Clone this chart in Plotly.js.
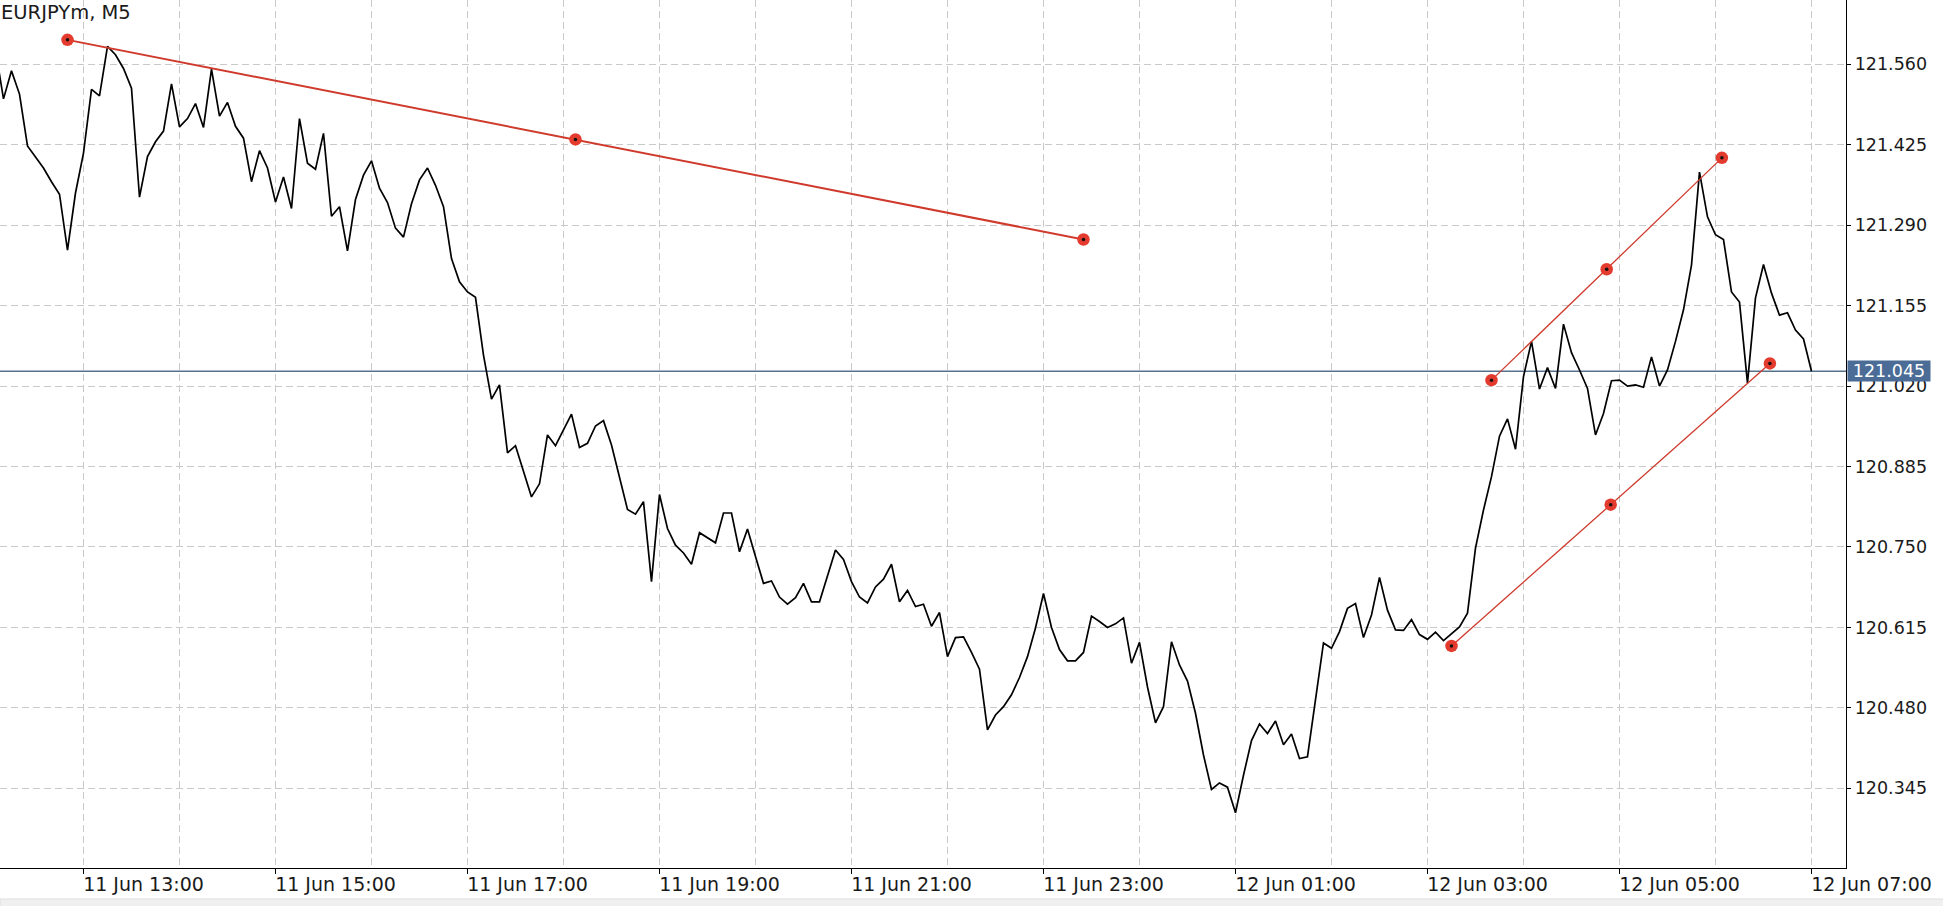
<!DOCTYPE html>
<html>
<head>
<meta charset="utf-8">
<script src="https://cdn.plot.ly/plotly-3.0.1.min.js"></script>
<style>
  html, body { margin: 0; padding: 0; background: #ffffff; }
  #chart { width: 1943px; height: 906px; }
</style>
</head>
<body>
<div id="chart"></div>
<script>
// ---- Data ----
const symbolTitle = 'EURJPYm, M5';
const barStart = Date.UTC(2019, 5, 11, 12, 5); // first M5 bar: 11 Jun 12:05
const barMinutes = 5;

// M5 close prices, one row per hour (12:05 .. 07:00)
const closes = [
  121.584, 121.502, 121.549, 121.510, 121.423, 121.405, 121.386, 121.363, 121.342, 121.248, 121.344,
  121.411, 121.518, 121.507, 121.590, 121.576, 121.553, 121.520, 121.337, 121.405, 121.430, 121.448, 121.527,
  121.455, 121.469, 121.494, 121.454, 121.552, 121.473, 121.496, 121.456, 121.436, 121.363, 121.415, 121.386,
  121.329, 121.371, 121.318, 121.469, 121.394, 121.384, 121.444, 121.305, 121.321, 121.247, 121.333, 121.374,
  121.398, 121.352, 121.328, 121.285, 121.270, 121.326, 121.366, 121.386, 121.357, 121.321, 121.234, 121.195,
  121.178, 121.169, 121.072, 120.998, 121.022, 120.908, 120.920, 120.876, 120.834, 120.856, 120.938, 120.920,
  120.946, 120.973, 120.917, 120.924, 120.953, 120.962, 120.921, 120.868, 120.813, 120.805, 120.826, 120.692,
  120.838, 120.781, 120.753, 120.740, 120.721, 120.774, 120.766, 120.757, 120.807, 120.807, 120.742, 120.780,
  120.734, 120.689, 120.693, 120.666, 120.654, 120.665, 120.689, 120.658, 120.658, 120.700, 120.745, 120.729,
  120.692, 120.666, 120.656, 120.683, 120.696, 120.721, 120.658, 120.677, 120.650, 120.654, 120.617, 120.640,
  120.566, 120.598, 120.599, 120.573, 120.545, 120.443, 120.468, 120.482, 120.502, 120.531, 120.566, 120.614,
  120.672, 120.615, 120.578, 120.559, 120.559, 120.573, 120.634, 120.625, 120.615, 120.621, 120.631, 120.555,
  120.590, 120.515, 120.455, 120.482, 120.591, 120.552, 120.525, 120.471, 120.401, 120.343, 120.354, 120.347,
  120.304, 120.367, 120.425, 120.453, 120.437, 120.458, 120.418, 120.436, 120.395, 120.398, 120.490, 120.589,
  120.580, 120.608, 120.647, 120.655, 120.598, 120.636, 120.699, 120.644, 120.611, 120.610, 120.628, 120.603,
  120.595, 120.607, 120.593, 120.604, 120.616, 120.639, 120.748, 120.812, 120.868, 120.936, 120.965, 120.914,
  121.036, 121.095, 121.015, 121.051, 121.016, 121.124, 121.076, 121.047, 121.016, 120.938, 120.974, 121.029,
  121.030, 121.020, 121.022, 121.018, 121.069, 121.020, 121.047, 121.095, 121.148, 121.223, 121.379, 121.304,
  121.274, 121.266, 121.178, 121.161, 121.025, 121.168, 121.224, 121.176, 121.139, 121.143, 121.114, 121.099,
  121.045
];

const bidPrice = 121.045;

// Trend lines (endpoint, middle handle, endpoint)
const trend1Times  = ['2019-06-11 12:50:00', '2019-06-11 18:07:30', '2019-06-11 23:25:00'];
const trend1Prices = [121.601, 121.434, 121.266];
const upperTimes   = ['2019-06-12 03:40:00', '2019-06-12 04:52:00', '2019-06-12 06:04:00'];
const upperPrices  = [121.030, 121.216, 121.403];
const lowerTimes   = ['2019-06-12 03:15:00', '2019-06-12 04:54:30', '2019-06-12 06:34:00'];
const lowerPrices  = [120.584, 120.821, 121.058];

// Axes
const xRange = ['2019-06-11 12:07:49', '2019-06-12 07:21:34'];
const yRange = [120.2113, 121.6679];
const xTickVals = ['2019-06-11 13:00', '2019-06-11 15:00', '2019-06-11 17:00', '2019-06-11 19:00',
                   '2019-06-11 21:00', '2019-06-11 23:00', '2019-06-12 01:00', '2019-06-12 03:00',
                   '2019-06-12 05:00', '2019-06-12 07:00'];
const xTickText = ['11 Jun 13:00', '11 Jun 15:00', '11 Jun 17:00', '11 Jun 19:00',
                   '11 Jun 21:00', '11 Jun 23:00', '12 Jun 01:00', '12 Jun 03:00',
                   '12 Jun 05:00', '12 Jun 07:00'];
const yTickVals = [120.345, 120.480, 120.615, 120.750, 120.885, 121.020, 121.155, 121.290, 121.425, 121.560];
const yTickText = ['120.345', '120.480', '120.615', '120.750', '120.885', '121.020', '121.155', '121.290', '121.425', '121.560'];

// ---- Build ----
function fmt(ms) {
  return new Date(ms).toISOString().slice(0, 19).replace('T', ' ');
}
const barTimes = closes.map((_, i) => fmt(barStart + i * barMinutes * 60000));

const gridColor = '#c9c9c9';
const gridDash = '7px,4px';
const lineRed = '#cf3a2c';
const markRed = '#e33b2e';

function trendTraces(times, prices, width) {
  return [
    { x: times, y: prices, type: 'scatter', mode: 'lines+markers',
      line: { color: lineRed, width: width },
      marker: { color: markRed, size: 12.5, line: { width: 0 } },
      hoverinfo: 'skip', showlegend: false, cliponaxis: false },
    { x: times, y: prices, type: 'scatter', mode: 'markers',
      marker: { color: '#111111', size: 3.5, line: { width: 0 } },
      hoverinfo: 'skip', showlegend: false, cliponaxis: false }
  ];
}

const traces = [
  { x: barTimes, y: closes, type: 'scatter', mode: 'lines',
    line: { color: '#000000', width: 1.7 }, hoverinfo: 'skip', showlegend: false },
  ...trendTraces(trend1Times, trend1Prices, 2),
  ...trendTraces(upperTimes, upperPrices, 1.3),
  ...trendTraces(lowerTimes, lowerPrices, 1.3)
];

const layout = {
  width: 1943, height: 906,
  margin: { l: 0, r: 97, t: 0, b: 38, pad: 0 },
  paper_bgcolor: '#ffffff', plot_bgcolor: '#ffffff',
  showlegend: false,
  font: { family: 'DejaVu Sans', color: '#1a1a1a' },
  xaxis: {
    type: 'date', range: xRange, fixedrange: true,
    tickmode: 'array', tickvals: xTickVals, ticktext: xTickText,
    ticks: 'outside', ticklen: 5, tickcolor: '#000000', tickwidth: 1,
    ticklabelshift: 60, ticklabelstandoff: -6,
    tickfont: { family: 'DejaVu Sans', size: 19, color: '#1a1a1a' },
    showgrid: true, gridcolor: gridColor, griddash: gridDash, gridwidth: 1,
    minor: { tickmode: 'linear', tick0: '2019-06-11 12:00', dtick: 3600000,
             showgrid: true, gridcolor: gridColor, griddash: gridDash, gridwidth: 1, ticks: '' },
    showline: true, linecolor: '#000000', linewidth: 1.2,
    zeroline: false
  },
  yaxis: {
    side: 'right', range: yRange, fixedrange: true,
    tickmode: 'array', tickvals: yTickVals, ticktext: yTickText,
    ticks: 'outside', ticklen: 4, tickcolor: '#000000', tickwidth: 1,
    tickfont: { family: 'DejaVu Sans', size: 17.5, color: '#1a1a1a' },
    showgrid: true, gridcolor: gridColor, griddash: gridDash, gridwidth: 1,
    showline: true, linecolor: '#000000', linewidth: 1.2,
    zeroline: false
  },
  shapes: [
    { type: 'line', xref: 'paper', yref: 'y', x0: 0, x1: 1, y0: bidPrice, y1: bidPrice,
      line: { color: '#56718b', width: 1.4 }, layer: 'below' },
    { type: 'rect', xref: 'paper', yref: 'paper', x0: 0, x1: 1.06, y0: -0.0357, y1: -0.05,
      fillcolor: '#f0f0f0', line: { color: '#dedede', width: 1 } }
  ],
  annotations: [
    { text: symbolTitle, xref: 'paper', yref: 'paper', x: 0, y: 1, xanchor: 'left', yanchor: 'top',
      xshift: -1, yshift: 1, showarrow: false,
      font: { family: 'DejaVu Sans', size: 19.5, color: '#1a1a1a' } },
    { text: bidPrice.toFixed(3), xref: 'paper', yref: 'y', x: 1, y: bidPrice,
      xanchor: 'left', yanchor: 'middle', xshift: 1, showarrow: false,
      width: 82, height: 20, align: 'center', valign: 'middle',
      bgcolor: '#4a6c96', borderpad: 0,
      font: { family: 'DejaVu Sans', size: 17.5, color: '#ffffff' } }
  ]
};

Plotly.newPlot('chart', traces, layout, { displayModeBar: false, staticPlot: true });
</script>
</body>
</html>
